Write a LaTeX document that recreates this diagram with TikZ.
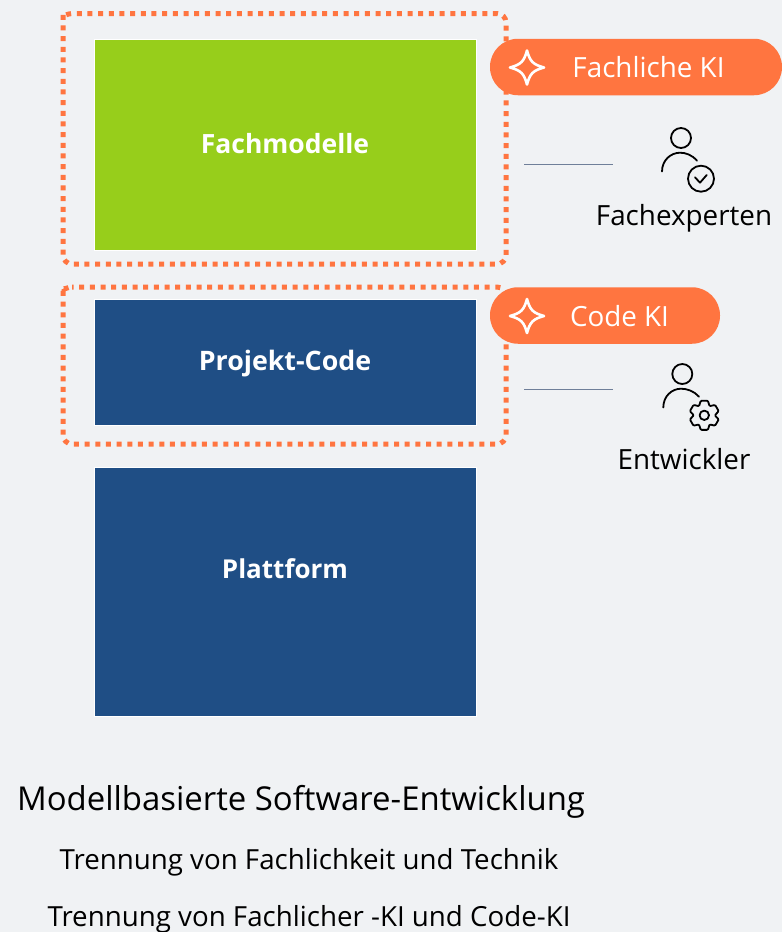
\documentclass[tikz,border=0pt]{standalone}
\usepackage{fontspec}
\setmainfont{Open Sans}
\definecolor{bgc}{HTML}{F0F2F4}
\definecolor{orangec}{HTML}{FF7540}
\definecolor{greenc}{HTML}{97CE1B}
\definecolor{bluec}{HTML}{1F4E85}
\definecolor{linec}{HTML}{6F7F99}
\tikzset{
  layerbox/.style={draw=white,line width=1pt,minimum width=382pt,inner sep=0pt},
  layertext/.style={text=white,inner sep=0pt,font=\fontsize{#1}{30}\selectfont\bfseries},
  dotbox/.style={draw=orangec,line width=5pt,rounded corners=9pt},
  pill/.style={fill=orangec,rounded corners=28pt,inner sep=0pt,minimum height=56.5pt},
  pilltext/.style={text=white,font=\fontsize{27.8}{30}\selectfont,inner sep=0pt},
  plain/.style={text=black,font=\fontsize{27.8}{30}\selectfont,inner sep=0pt},
  caption/.style={text=black,inner sep=0pt},
  icon/.style={draw=black,line width=1.8pt,line cap=round,line join=round},
  spark/.style={draw=white,line width=2.6pt,line join=round},
  link/.style={draw=linec,line width=1pt}
}
\newcommand{\sparkshape}[2]{%
  \draw[spark] (#1-17,#2) .. controls (#1-6,#2-3) and (#1-3,#2-6) .. (#1,#2-17)
    .. controls (#1+3,#2-6) and (#1+6,#2-3) .. (#1+17,#2)
    .. controls (#1+6,#2+3) and (#1+3,#2+6) .. (#1,#2+17)
    .. controls (#1-3,#2+6) and (#1-6,#2+3) .. cycle;}
\begin{document}
\begin{tikzpicture}[x=1pt,y=-1pt]
\useasboundingbox[fill=bgc] (0,0) rectangle (782,932);
% layers
\node[layerbox,fill=greenc,minimum height=211pt] (fach) at (285,145) {};
\node[layerbox,fill=bluec,minimum height=126pt] (proj) at (285,362.5) {};
\node[layerbox,fill=bluec,minimum height=249pt] (platt) at (285,592) {};
\node[layertext=26.5] (fachlabel) at (285,144) {Fachmodelle};
\node[layertext=26.8] (projlabel) at (285,364) {Projekt-Code};
\node[layertext=26] (plattlabel) at (285,568.5) {Plattform};
% dotted frames
\draw[dotbox,dash pattern=on 5pt off 5.67pt,dash phase=5.87pt] (72,13.5) -- (506,13.5) -- (506,264) -- (63,264) -- (63,22.5) .. controls (63,17.5) and (67,13.5) .. (72,13.5);
\draw[dotbox,dash pattern=on 5pt off 5.67pt,dash phase=3.47pt] (72,287) -- (506,287) -- (506,444) -- (63,444) -- (63,296) .. controls (63,291) and (67,287) .. (72,287);
% pills
\node[pill,minimum width=292pt] (p1) at (636,67) {};
\node[pill,minimum width=230pt] (p2) at (605,315.5) {};
\sparkshape{527}{67.5}
\sparkshape{527}{316}
\node[pilltext] (p1t) at (648.5,67) {Fachliche KI};
\node[pilltext] (p2t) at (619.5,316) {Code KI};
% links
\coordinate (l1a) at (524,164); \coordinate (l1b) at (613,164);
\coordinate (l2a) at (524,389); \coordinate (l2b) at (613,389);
\draw[link] (l1a) -- (l1b);
\draw[link] (l2a) -- (l2b);
% icon 1
\draw[icon] (681,138) circle (10);
\draw[icon] (662,171.5) .. controls (662,160) and (671,152.7) .. (680,152.7) .. controls (686,152.7) and (692,155) .. (697,160.7);
\draw[icon] (701,178.7) circle (13);
\draw[icon] (695,177.3) -- (700,182.7) -- (706.7,175);
% icon 2
\draw[icon] (682.3,374) circle (10);
\draw[icon] (663.3,407.5) .. controls (663.3,396) and (672,388.7) .. (681,388.7) .. controls (687,388.7) and (694,391) .. (699,396.7);
\begin{scope}[shift={(704.3,415.3)}]
\draw[icon] (0,0) circle (4.7);
\draw[icon,rounded corners=1pt] (76:15)
  \foreach \a in {30,-30,-90,-150,-210} { -- ({\a+30}:10.5) -- ({\a+14}:15) -- ({\a-14}:15) }
  -- (-240:10.5) -- (104:15) -- cycle;
\end{scope}
% labels
\node[plain] (fe) at (684,218) {Fachexperten};
\node[plain] (ew) at (684,459) {Entwickler};
\node[caption,font=\fontsize{32.9}{38}\selectfont] (c1) at (301,801.5) {Modellbasierte Software-Entwicklung};
\node[caption,font=\fontsize{27.7}{30}\selectfont] (c2) at (309,862.5) {Trennung von Fachlichkeit und Technik};
\node[caption,font=\fontsize{27.7}{30}\selectfont] (c3) at (309,919.5) {Trennung von Fachlicher -KI und Code-KI};
\end{tikzpicture}
\end{document}
